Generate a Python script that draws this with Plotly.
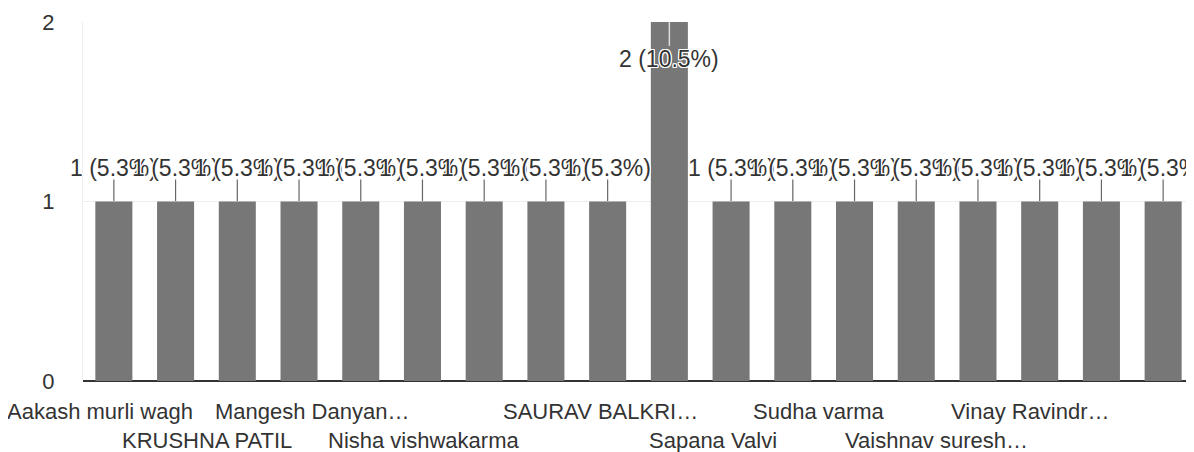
import plotly.graph_objects as go

# ---- data ----
counts = [1, 1, 1, 1, 1, 1, 1, 1, 1, 2, 1, 1, 1, 1, 1, 1, 1, 1]
shown_labels = ["Aakash murli wagh", "KRUSHNA PATIL", "Mangesh Danyan…",
                "Nisha vishwakarma", "SAURAV BALKRI…", "Sapana Valvi",
                "Sudha varma", "Vaishnav suresh…", "Vinay Ravindr…"]
y_ticks = [0, 1, 2]

# ---- layout helpers (positions of the shown labels, in category units) ----
label_pos = [-0.22, 1.51, 3.21, 5.02, 7.89, 9.71, 11.43, 13.32, 14.85]
label_row = [0, 1, 0, 1, 0, 1, 0, 1, 0]

total = sum(counts)
xs = list(range(len(counts)))
FONT = "Liberation Sans, Arial, sans-serif"
TXT = "#333333"
HALO = ("1px 1px 0 #fff, -1px -1px 0 #fff, 1px -1px 0 #fff, -1px 1px 0 #fff, "
        "0 1px 0 #fff, 0 -1px 0 #fff, 1px 0 0 #fff, -1px 0 0 #fff")

fig = go.Figure()
fig.add_trace(go.Bar(x=xs, y=counts, width=0.6, marker=dict(color="#777777", line=dict(width=0)),
                     hoverinfo="skip"))

ymax = max(counts)
annotations = []
shapes = []
for x, v in zip(xs, counts):
    txt = f"{v} ({v / total * 100:.1f}%)"
    if v == ymax:
        annotations.append(dict(x=x, y=v, xref="x", yref="y", text=txt, showarrow=False,
                                yanchor="middle", yshift=-37,
                                font=dict(family=FONT, size=23, color=TXT, shadow=HALO)))
        shapes.append(dict(type="line", xref="x", yref="y", x0=x, x1=x,
                           ysizemode="pixel", yanchor=v, y0=0, y1=-24,
                           line=dict(color="#dddddd", width=1.5)))
    else:
        annotations.append(dict(x=x, y=v, xref="x", yref="y", text=txt, showarrow=False,
                                yanchor="middle", yshift=34,
                                font=dict(family=FONT, size=23, color=TXT, shadow=HALO)))
        shapes.append(dict(type="line", xref="x", yref="y", x0=x, x1=x,
                           ysizemode="pixel", yanchor=v, y0=0, y1=22,
                           line=dict(color="#666666", width=1.2), layer="below"))

for lab, pos, row in zip(shown_labels, label_pos, label_row):
    annotations.append(dict(x=pos, y=0, xref="x", yref="paper", text=lab, showarrow=False,
                            yanchor="middle", yshift=-30 - 29 * row,
                            font=dict(family=FONT, size=22, color=TXT)))

# the page body adds an 8px offset; the figure is sized to the remaining window
fig.update_layout(
    width=1186, height=444,
    margin=dict(l=75, r=0, t=14, b=71),
    paper_bgcolor="white", plot_bgcolor="white",
    showlegend=False,
    bargap=0.4,
    annotations=annotations,
    shapes=shapes,
    xaxis=dict(range=[-0.5, len(counts) - 0.5], showticklabels=False, showgrid=False,
               zeroline=False, showline=False, ticks=""),
    yaxis=dict(range=[0, 2], tickvals=y_ticks, ticktext=[str(t) for t in y_ticks],
               showgrid=True, gridcolor="#eeeeee", gridwidth=1,
               zeroline=True, zerolinecolor="#333333", zerolinewidth=1.5,
               showline=True, linecolor="#eeeeee", linewidth=1,
               ticks="", ticklabelstandoff=23,
               tickfont=dict(family=FONT, size=22, color=TXT)),
)

fig.write_html("out.html")
